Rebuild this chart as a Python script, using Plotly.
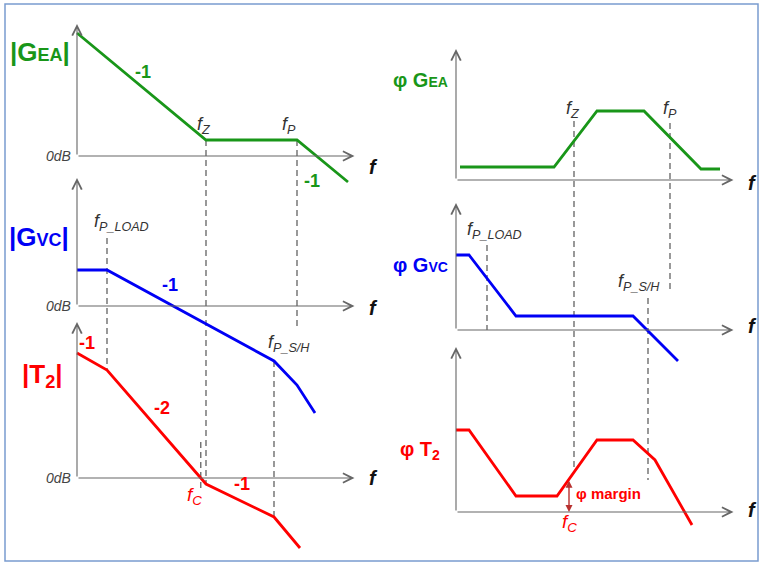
import numpy as np
import plotly.graph_objects as go

# -------------------------------
# DATA (frequency in decades from the y axis)
# -------------------------------
# left column : magnitudes in dB
gea_mag_f = [0, 2.58, 4.4, 5.42]
gea_mag_db = [61.5, 8, 8, -13]
gvc_mag_f = [0, 0.6, 3.94, 4.4, 4.76]
gvc_mag_db = [18, 18, -27.5, -39.5, -53.5]
t2_mag_f = [0, 0.6, 2.58, 3.94, 4.46]
t2_mag_db = [62.5, 54, -3, -19.5, -35]

# right column : phases in degrees (relative to the f axis)
gea_ph_f = [0.08, 1.96, 2.82, 3.76, 4.9, 5.28]
gea_ph_deg = [26, 26, 138, 138, 22, 22]
gvc_ph_f = [0, 0.26, 1.2, 3.54, 4.44]
gvc_ph_deg = [150, 150, 28, 28, -62]
t2_ph_f = [0, 0.26, 1.2, 2.02, 2.82, 3.54, 3.98, 4.72]
t2_ph_deg = [164, 164, 32, 32, 144, 144, 104, -26]

# corner frequencies
corner_names = ["P_LOAD", "Z", "P_S/H", "P"]
corner_left = [0.6, 2.58, 3.94, 4.4]
corner_right = [0.62, 2.36, 3.84, 4.28]
fc_right = 2.26

# -------------------------------
# GEOMETRY
# -------------------------------
W, H = 761, 563
PX_DEC = 50
ORIGIN = {"L": 77, "R": 456}
X_END = 5.55
GREEN, BLUE, RED = "#199619", "#0000F5", "#FF0000"
AXC = "#666666"
GUIDE = "#555555"
FONT = "Liberation Sans, Arial, sans-serif"

# name: (column, y pixel of f axis, px per unit, yaxis, y arrow tip value)
panels = {
    "gea_mag": ("L", 156, 2.0, "y", 66),
    "gvc_mag": ("L", 306, 2.0, "y2", 64),
    "t2_mag": ("L", 478, 2.0, "y3", 78),
    "gea_ph": ("R", 180, 0.5, "y4", 262),
    "gvc_ph": ("R", 330, 0.5, "y5", 254),
    "t2_ph": ("R", 512, 0.5, "y6", 330),
}
xref = {"L": "x", "R": "x2"}


def to_px(p, v):
    col, ay, s, _, _ = panels[p]
    return ay - s * v


def from_px(p, py):
    col, ay, s, _, _ = panels[p]
    return (ay - py) / s


fig = go.Figure()


def curve(p, f, v, color):
    col, _, _, ya, _ = panels[p]
    fig.add_trace(go.Scatter(x=f, y=v, mode="lines", xaxis=xref[col], yaxis=ya,
                             line=dict(color=color, width=2.8), hoverinfo="skip"))


def guide(col, f, p0, v0, p1, v1):
    # dashed line drawn in panel p0 units
    v1 = from_px(p0, to_px(p1, v1))
    ya = panels[p0][3]
    fig.add_trace(go.Scatter(x=[f, f], y=[v0, v1], mode="lines", xaxis=xref[col], yaxis=ya,
                             line=dict(color=GUIDE, width=1.2, dash="6px,4px"), hoverinfo="skip"))


# guides first so curves sit on top
fl, fzl, fshl, fpl = corner_left
fr, fzr, fshr, fpr = corner_right
fc_left = float(np.interp(0, t2_mag_db[::-1], t2_mag_f[::-1]))

guide("L", fzl, "gea_mag", np.interp(fzl, gea_mag_f, gea_mag_db), "t2_mag", np.interp(fzl, t2_mag_f, t2_mag_db))
guide("L", fpl, "gea_mag", np.interp(fpl, gea_mag_f, gea_mag_db), "gvc_mag", -10.5)
guide("L", fl, "gvc_mag", 34, "t2_mag", np.interp(fl, t2_mag_f, t2_mag_db))
guide("L", fshl, "gvc_mag", np.interp(fshl, gvc_mag_f, gvc_mag_db), "t2_mag", np.interp(fshl, t2_mag_f, t2_mag_db))
guide("L", fc_left, "t2_mag", 18, "t2_mag", -6)

guide("R", fzr, "gea_ph", 118, "t2_ph", np.interp(fzr, t2_ph_f, t2_ph_deg))
guide("R", fpr, "gea_ph", 114, "gvc_ph", 80)
guide("R", fr, "gvc_ph", 170, "gvc_ph", 0)
guide("R", fshr, "gvc_ph", 64, "t2_ph", 64)

curve("gea_mag", gea_mag_f, gea_mag_db, GREEN)
curve("gvc_mag", gvc_mag_f, gvc_mag_db, BLUE)
curve("t2_mag", t2_mag_f, t2_mag_db, RED)
curve("gea_ph", gea_ph_f, gea_ph_deg, GREEN)
curve("gvc_ph", gvc_ph_f, gvc_ph_deg, BLUE)
curve("t2_ph", t2_ph_f, t2_ph_deg, RED)

# axes with open arrow heads
for p, (col, ay, s, ya, tip) in panels.items():
    xr = xref[col]
    for (x, y) in [(0, tip), (X_END, 0)]:
        fig.add_annotation(x=x, y=y, ax=0, ay=0, xref=xr, yref=ya, axref=xr, ayref=ya,
                           text="", showarrow=True, arrowhead=5, arrowsize=1.7,
                           arrowwidth=1.1, arrowcolor=AXC, standoff=0, startstandoff=0)

# phase margin arrow
pm_top = float(np.interp(fc_right, t2_ph_f, t2_ph_deg))
fig.add_annotation(x=fc_right, y=0, ax=fc_right, ay=pm_top, xref="x2", yref="y6",
                   axref="x2", ayref="y6", text="", showarrow=True, arrowhead=2,
                   arrowside="end+start", arrowsize=1, arrowwidth=1.4, arrowcolor="#B8312F")


def label(px, py, text, size, color="#333333"):
    fig.add_annotation(x=px / W, y=1 - py / H, xref="paper", yref="paper", text=text,
                       xanchor="center", yanchor="middle", showarrow=False,
                       font=dict(family=FONT, size=size, color=color))


def flab(name):
    return "<i>f<sub>%s</sub></i>" % name


# titles
label(40, 52, "<b>|G<span style='font-size:18px'>EA</span>|</b>", 26, GREEN)
label(39, 237, "<b>|G<span style='font-size:18px'>VC</span>|</b>", 26, BLUE)
label(42, 375, "<b>|T<sub>2</sub>|</b>", 26, RED)
label(420, 80, "<b>φ G<span style='font-size:14px'>EA</span></b>", 20, GREEN)
label(420, 265, "<b>φ G<span style='font-size:14px'>VC</span></b>", 20, BLUE)
label(420, 450, "<b>φ T<sub>2</sub></b>", 20, RED)

# slopes
label(143, 72, "<b>-1</b>", 18, GREEN)
label(312, 181, "<b>-1</b>", 18, GREEN)
label(170, 285, "<b>-1</b>", 18, BLUE)
label(87, 343, "<b>-1</b>", 18, RED)
label(162, 408, "<b>-2</b>", 18, RED)
label(242, 484, "<b>-1</b>", 18, RED)

# 0dB and f
for py in [156, 306, 478]:
    label(58, py, "<i>0dB</i>", 14, "#444444")
for px, py in [(373, 167), (373, 308), (373, 478), (752, 183), (752, 326), (752, 510)]:
    label(px, py, "<b><i>f</i></b>", 20, "#111111")

# corner frequency labels
label(204, 126, flab(corner_names[1]), 18)
label(289, 126, flab(corner_names[3]), 18)
label(121, 222, flab(corner_names[0]), 18)
label(289, 343, flab(corner_names[2]), 18)
label(573, 110, flab(corner_names[1]), 18)
label(670, 110, flab(corner_names[3]), 18)
label(494, 230, flab(corner_names[0]), 18)
label(639, 282, flab(corner_names[2]), 18)
label(194, 496, "<i>f<sub>C</sub></i>", 19, RED)
label(569, 523, "<i>f<sub>C</sub></i>", 19, RED)
label(608, 493, "<b>φ margin</b>", 15, RED)

# frame
fig.add_shape(type="rect", xref="paper", yref="paper", x0=5 / W, x1=758 / W,
              y0=1 - 561 / H, y1=1 - 4 / H, line=dict(color="#7A9CD0", width=1.5))

ax_common = dict(visible=False, fixedrange=True)
layout = dict(
    width=W, height=H, margin=dict(l=0, r=0, t=0, b=0),
    paper_bgcolor="white", plot_bgcolor="rgba(0,0,0,0)", showlegend=False,
    xaxis=dict(domain=[0, 380 / W], range=[-ORIGIN["L"] / PX_DEC, (380 - ORIGIN["L"]) / PX_DEC], **ax_common),
    xaxis2=dict(domain=[380 / W, 1], range=[(380 - ORIGIN["R"]) / PX_DEC, (W - ORIGIN["R"]) / PX_DEC], **ax_common),
)
for i, (p, (col, ay, s, ya, tip)) in enumerate(panels.items()):
    key = "yaxis" if ya == "y" else "yaxis" + ya[1:]
    d = dict(domain=[0, 1], range=[(ay - H) / s, ay / s], anchor=xref[col], **ax_common)
    if ya not in ("y", "y4"):
        d["overlaying"] = "y" if col == "L" else "y4"
    layout[key] = d
fig.update_layout(**layout)

fig.write_html("out.html", config={"displayModeBar": False},
               post_script="document.body.style.margin='0';")
